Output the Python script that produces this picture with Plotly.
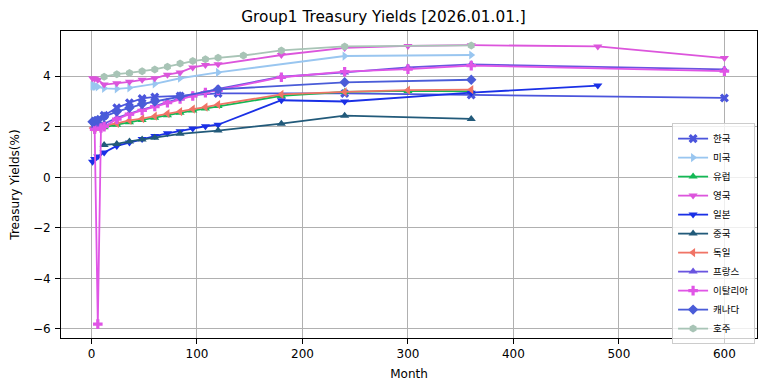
import plotly.graph_objects as go

# ---- data (months, yields %) ----
kr_m = [3, 6, 12, 24, 36, 48, 60, 84, 120, 240, 360, 600]
kr_v = [2.18, 2.25, 2.45, 2.75, 2.95, 3.12, 3.18, 3.22, 3.32, 3.32, 3.26, 3.14]

us_m = [1, 2, 3, 4, 6, 12, 24, 36, 60, 84, 120, 240, 360]
us_v = [3.62, 3.62, 3.6, 3.6, 3.58, 3.52, 3.5, 3.54, 3.7, 3.92, 4.15, 4.8, 4.84]

eu_m = [3, 6, 12, 24, 36, 48, 60, 72, 84, 96, 108, 120, 180, 240, 300, 360]
eu_v = [1.92, 1.93, 1.98, 2.08, 2.18, 2.27, 2.36, 2.46, 2.55, 2.64, 2.72, 2.82, 3.22, 3.38, 3.42, 3.4]

uk_m = [1, 3, 6, 12, 24, 36, 48, 60, 72, 84, 96, 108, 120, 180, 240, 300, 360, 480, 600]
uk_v = [3.92, 3.9, 3.86, 3.67, 3.72, 3.78, 3.86, 3.92, 4.06, 4.15, 4.35, 4.44, 4.47, 4.84, 5.12, 5.2, 5.23, 5.18, 4.72]

jp_m = [1, 3, 6, 12, 24, 36, 48, 60, 72, 84, 96, 108, 120, 180, 240, 360, 480]
jp_v = [0.62, 0.72, 0.82, 0.98, 1.24, 1.38, 1.52, 1.63, 1.74, 1.82, 1.93, 2.02, 2.08, 3.05, 3.0, 3.35, 3.63]

cn_m = [12, 24, 36, 48, 60, 84, 120, 180, 240, 360]
cn_v = [1.28, 1.32, 1.42, 1.5, 1.57, 1.72, 1.85, 2.12, 2.44, 2.31]

de_m = [1, 3, 6, 12, 24, 36, 48, 60, 72, 84, 96, 108, 120, 180, 240, 300, 360]
de_v = [1.95, 1.96, 2.0, 2.05, 2.13, 2.25, 2.32, 2.42, 2.52, 2.6, 2.7, 2.78, 2.88, 3.28, 3.38, 3.45, 3.47]

fr_m = [3, 6, 12, 24, 36, 48, 60, 72, 84, 96, 108, 120, 180, 240, 300, 360, 600]
fr_v = [2.02, 2.05, 2.12, 2.35, 2.52, 2.68, 2.82, 2.98, 3.12, 3.25, 3.38, 3.5, 3.98, 4.15, 4.35, 4.47, 4.27]

it_m = [3, 6, 9, 12, 24, 36, 48, 60, 72, 84, 96, 108, 120, 180, 240, 300, 360, 600]
it_v = [1.9, -5.81, 1.95, 2.0, 2.3, 2.5, 2.65, 2.8, 2.95, 3.1, 3.22, 3.35, 3.45, 3.96, 4.18, 4.28, 4.42, 4.2]

ca_m = [1, 3, 6, 12, 24, 36, 48, 60, 84, 120, 240, 360]
ca_v = [2.2, 2.22, 2.27, 2.4, 2.6, 2.75, 2.9, 3.0, 3.2, 3.48, 3.76, 3.86]

au_m = [12, 24, 36, 48, 60, 72, 84, 96, 108, 120, 144, 180, 240, 360]
au_v = [3.98, 4.08, 4.13, 4.2, 4.27, 4.38, 4.5, 4.6, 4.67, 4.73, 4.82, 5.02, 5.18, 5.22]

series = [
    ("한국", kr_m, kr_v, "#4b55dc", "x"),
    ("미국", us_m, us_v, "#99c6f0", "triangle-right"),
    ("유럽", eu_m, eu_v, "#14b855", "triangle-up"),
    ("영국", uk_m, uk_v, "#dc55dc", "triangle-down"),
    ("일본", jp_m, jp_v, "#1a30e6", "triangle-down"),
    ("중국", cn_m, cn_v, "#225a7a", "triangle-up"),
    ("독일", de_m, de_v, "#f07466", "triangle-left"),
    ("프랑스", fr_m, fr_v, "#6a55e0", "triangle-up"),
    ("이탈리아", it_m, it_v, "#e055e6", "cross"),
    ("캐나다", ca_m, ca_v, "#4a5cd8", "diamond"),
    ("호주", au_m, au_v, "#a8c4b6", "hexagon"),
]

fig = go.Figure()
for name, m, v, col, sym in series:
    fig.add_trace(go.Scatter(
        x=m, y=v, name=name, mode="lines+markers",
        line=dict(color=col, width=1.8),
        marker=dict(color=col, symbol=sym, size=8, line=dict(width=0)),
    ))

axis_common = dict(
    showline=True, linecolor="black", linewidth=1, mirror=True,
    ticks="outside", ticklen=5, tickcolor="black",
    showgrid=True, gridcolor="#b0b0b0", gridwidth=1, zeroline=False,
    tickfont=dict(size=12, color="black"), automargin=False,
)

fig.update_layout(
    width=767, height=391,
    margin=dict(l=60.5, r=10, t=31, b=53),
    paper_bgcolor="white", plot_bgcolor="white",
    font=dict(family="DejaVu Sans, Noto Sans CJK KR", color="black"),
    title=dict(text="Group1 Treasury Yields [2026.01.01.]", x=0.5, xanchor="center",
               y=1 - 17 / 391, yanchor="middle", font=dict(size=15.3)),
    xaxis=dict(range=[-28.9, 630.9], tickvals=[0, 100, 200, 300, 400, 500, 600],
               title=dict(text="Month", font=dict(size=12), standoff=9), **axis_common),
    yaxis=dict(range=[-6.36, 5.79], tickvals=[-6, -4, -2, 0, 2, 4], ticklabelstandoff=2,
               title=dict(text="Treasury Yields(%)", font=dict(size=12), standoff=10), **axis_common),
    legend=dict(x=0.878, y=0.34, xanchor="left", yanchor="middle",
                bgcolor="rgba(255,255,255,0.8)", bordercolor="#cccccc", borderwidth=1,
                font=dict(size=9.5, family="Noto Sans CJK KR"), itemwidth=30,
                tracegroupgap=0),
    showlegend=True,
)

fig.write_html("out.html", config={"displayModeBar": False},
               post_script="document.body.style.margin='0';")
